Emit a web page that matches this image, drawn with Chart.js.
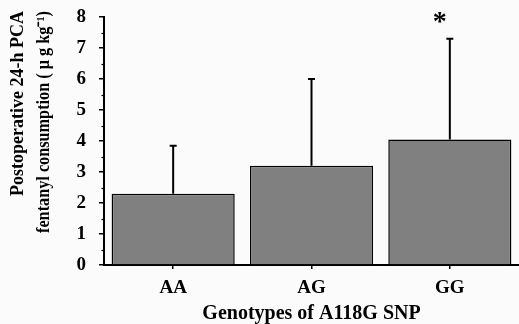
<!DOCTYPE html>
<html>
<head>
<meta charset="utf-8">
<style>
  html, body { margin: 0; padding: 0; background: #fbfbfb; }
  #wrap { width: 519px; height: 324px; position: relative; }
</style>
<script src="https://cdn.jsdelivr.net/npm/chart.js@4/dist/chart.umd.min.js"></script>
</head>
<body>
<div id="wrap"><canvas id="chart"></canvas></div>
<script>
// ── Data ──
const genotypes  = ['AA', 'AG', 'GG'];
const meanValues = [2.3, 3.2, 4.05];
const sdValues   = [1.55, 2.8, 3.25];
const sigMarks   = ['', '', '*'];
const yMin = 0, yMax = 8, yStep = 1;
const yTitleLines = ['Postoperative 24-h PCA', 'fentanyl consumption ( \u03BC g kg\u207B\u00B9)'];
const xTitle = 'Genotypes of A118G SNP';

const SERIF = '"Liberation Serif", "Times New Roman", serif';

// ── Error bars (upper only), significance marks, minor ticks, y title ──
const extrasPlugin = {
  id: 'extras',
  afterDatasetsDraw(chart) {
    const ctx = chart.ctx;
    const meta = chart.getDatasetMeta(0);
    const y = chart.scales.y;
    ctx.save();
    ctx.strokeStyle = '#000';
    ctx.lineWidth = 2;
    meta.data.forEach((bar, i) => {
      const yTop  = y.getPixelForValue(meanValues[i] + sdValues[i]);
      const yBase = y.getPixelForValue(meanValues[i]);
      ctx.beginPath();
      ctx.moveTo(bar.x, yBase);
      ctx.lineTo(bar.x, yTop);
      ctx.moveTo(bar.x - 3.5, yTop);
      ctx.lineTo(bar.x + 3.5, yTop);
      ctx.stroke();
      if (sigMarks[i]) {
        ctx.fillStyle = '#000';
        ctx.font = 'bold 28px ' + SERIF;
        ctx.textAlign = 'center';
        ctx.textBaseline = 'top';
        ctx.fillText(sigMarks[i], bar.x - 10, yTop - 30);
      }
    });

    // minor ticks at half steps
    ctx.lineWidth = 1.2;
    for (let v = yMin + yStep / 2; v < yMax; v += yStep) {
      const py = Math.round(y.getPixelForValue(v)) + 0.5;
      ctx.beginPath();
      ctx.moveTo(y.right - 2.5, py);
      ctx.lineTo(y.right, py);
      ctx.stroke();
    }

    // y-axis title (two lines, aligned to the top)
    ctx.fillStyle = '#000';
    ctx.font = 'bold 18px ' + SERIF;
    ctx.textAlign = 'right';
    ctx.textBaseline = 'middle';
    const xs = [18, 44];
    const maxW = [190, 222];
    yTitleLines.forEach((line, i) => {
      ctx.save();
      ctx.translate(xs[i], 11);
      ctx.rotate(-Math.PI / 2);
      ctx.fillText(line, 0, 0, maxW[i]);
      ctx.restore();
    });
    ctx.restore();
  }
};

new Chart(document.getElementById('chart'), {
  type: 'bar',
  data: {
    labels: genotypes,
    datasets: [{
      data: meanValues,
      backgroundColor: '#808080',
      borderColor: '#000',
      borderWidth: 1.5,
      barPercentage: 0.89,
      categoryPercentage: 1.0
    }]
  },
  options: {
    responsive: true,
    maintainAspectRatio: false,
    animation: false,
    layout: { padding: { left: 70, right: 0, top: 17, bottom: 0 } },
    plugins: { legend: { display: false }, tooltip: { enabled: false } },
    scales: {
      x: {
        grid: { display: true, drawOnChartArea: false, offset: false, tickLength: 4, color: '#000', lineWidth: 1.5 },
        border: { display: true, color: '#000', width: 2 },
        ticks: { color: '#000', padding: 8, font: { family: SERIF, size: 19, weight: 'bold' } },
        title: { display: true, text: xTitle, color: '#000', padding: { top: 0, bottom: 0 },
                 font: { family: SERIF, size: 20, weight: 'bold', lineHeight: 1.0 } },
        afterFit: s => { s.height = 59; s.paddingLeft = 0; s.paddingRight = 0; }
      },
      y: {
        min: yMin, max: yMax,
        grid: { display: true, drawOnChartArea: false, tickLength: 5, color: '#000', lineWidth: 1.5 },
        border: { display: true, color: '#000', width: 2 },
        ticks: { stepSize: yStep, color: '#000', padding: 13, font: { family: SERIF, size: 19, weight: 'bold' } },
        afterFit: s => { s.width = 34; s.paddingTop = 0; s.paddingBottom = 0; }
      }
    }
  },
  plugins: [extrasPlugin]
});
</script>
</body>
</html>
